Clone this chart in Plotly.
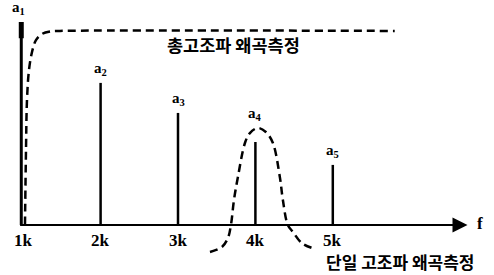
import plotly.graph_objects as go

# ---- data (frequency in kHz, relative amplitude a1 = 1) ----
harm_f = [1, 2, 3, 4, 5]
harm_labels = ["1k", "2k", "3k", "4k", "5k"]
harm_names = ["a<sub>1</sub>", "a<sub>2</sub>", "a<sub>3</sub>", "a<sub>4</sub>", "a<sub>5</sub>"]
harm_amp = [1.0, 0.70, 0.552, 0.409, 0.296]

# total harmonic distortion measurement window (dashed)
thd_f = [1.023, 1.036, 1.049, 1.075, 1.114, 1.165, 1.243, 1.346, 1.475, 5.80]
thd_amp = [0.0, 0.369, 0.616, 0.764, 0.852, 0.911, 0.941, 0.953, 0.956, 0.956]

# single harmonic distortion measurement window (dashed)
shd_f = [3.413, 3.568, 3.645, 3.684, 3.723, 3.774, 3.865, 3.929, 4.032,
         4.135, 4.226, 4.316, 4.355, 4.419, 4.484, 4.600, 4.768]
shd_amp = [-0.133, -0.108, -0.064, 0.0, 0.123, 0.236, 0.404, 0.453, 0.478,
           0.458, 0.404, 0.236, 0.123, 0.0, -0.034, -0.089, -0.118]

thd_text = "총고조파 왜곡측정"
shd_text = "단일 고조파 왜곡측정"

X0, PXK = 23.2, 77.4          # pixel of 1k, pixels per kHz
W, H, BASE, UNIT = 494, 275, 225, 203
xr = [1 - X0 / PXK, 1 + (W - X0) / PXK]
yr = [-(H - BASE) / UNIT, BASE / UNIT]
X_END = 6.74

fig = go.Figure()

# harmonic lines (a2..a5)
bx, by = [], []
for f, a in zip(harm_f[1:], harm_amp[1:]):
    bx += [f, f, None]
    by += [0, a, None]
fig.add_trace(go.Scatter(x=bx, y=by, mode="lines",
                         line=dict(color="black", width=2.5), hoverinfo="skip"))

# y axis / fundamental a1
fig.add_trace(go.Scatter(x=[harm_f[0] - 0.025, harm_f[0] - 0.025], y=[0, harm_amp[0]],
                         mode="lines", line=dict(color="black", width=3), hoverinfo="skip"))
fig.add_trace(go.Scatter(x=[harm_f[0] - 0.025, harm_f[0] - 0.025],
                         y=[harm_amp[0] - 0.08, harm_amp[0]],
                         mode="lines", line=dict(color="black", width=5), hoverinfo="skip"))

# x axis
fig.add_trace(go.Scatter(x=[harm_f[0] - 0.04, X_END - 0.05], y=[0, 0], mode="lines",
                         line=dict(color="black", width=2), hoverinfo="skip"))

# dashed windows
fig.add_trace(go.Scatter(x=thd_f, y=thd_amp, mode="lines", line_shape="spline",
                         line=dict(color="black", width=2.5, dash="8px,5px"), hoverinfo="skip"))
fig.add_trace(go.Scatter(x=shd_f, y=shd_amp, mode="lines", line_shape="spline",
                         line=dict(color="black", width=2.5, dash="8px,5px"), hoverinfo="skip"))

ann = []
serif = "Liberation Serif"
for i, (f, a, n) in enumerate(zip(harm_f, harm_amp, harm_names)):
    ya = max(shd_amp) if i == 3 else a
    ann.append(dict(x=f - (0.06 if f == 1 else 0), y=ya, text=n, showarrow=False,
                    yanchor="bottom", yshift=3,
                    font=dict(family=serif, size=15, color="black", weight="bold")))
for f, t in zip(harm_f, harm_labels):
    ann.append(dict(x=f, y=0, text=t, showarrow=False, yanchor="middle", yshift=-15,
                    font=dict(family=serif, size=17, color="black", weight="bold")))
ann.append(dict(x=X_END, y=0, ax=-16, ay=0, text="", showarrow=True,
                arrowhead=2, arrowsize=1.2, arrowwidth=2.5, arrowcolor="black"))
ann.append(dict(x=X_END + 0.1, y=0, text="f", showarrow=False, xanchor="left", yshift=2,
                font=dict(family=serif, size=17, color="black", weight="bold")))
ann.append(dict(x=3.72, y=0.89, text=thd_text, showarrow=False,
                font=dict(family="Noto Sans CJK KR", size=17.5, color="black", weight="bold")))
ann.append(dict(x=5.87, y=-0.178, text=shd_text, showarrow=False,
                font=dict(family="Noto Sans CJK KR", size=17, color="black", weight="bold")))

fig.update_layout(
    width=W, height=H, margin=dict(l=0, r=0, t=0, b=0),
    paper_bgcolor="white", plot_bgcolor="white", showlegend=False,
    xaxis=dict(range=xr, visible=False, fixedrange=True),
    yaxis=dict(range=yr, visible=False, fixedrange=True),
    annotations=ann,
)
fig.write_html("out.html", config={"displayModeBar": False},
               post_script="document.body.style.margin='0px';document.body.style.overflow='hidden';")
